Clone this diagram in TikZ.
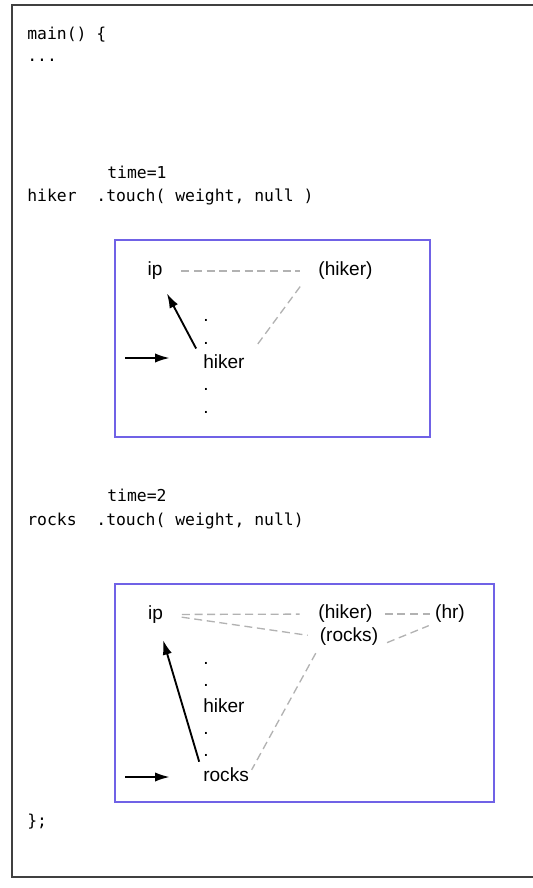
\documentclass[tikz,border=0pt]{standalone}
\usepackage{fontspec}
\setmainfont{Liberation Sans}
\setmonofont{DejaVu Sans Mono}
\usetikzlibrary{arrows.meta}
\definecolor{boxblue}{RGB}{112,98,230}
\definecolor{linkgray}{RGB}{178,178,178}
\tikzset{
  codeline/.style={anchor=base west, inner sep=0pt, font=\fontsize{12.3}{15}\selectfont\ttfamily},
  word/.style={inner sep=0pt, font=\fontsize{14.3}{17}\selectfont},
  memory/.style={draw=boxblue, line width=2pt},
  link/.style={draw=linkgray, line width=1pt, dash pattern=on 6pt off 3.5pt},
  ptr/.style={-{Latex[length=11pt,width=7pt]}, line width=1.4pt}
}
\begin{document}
\begin{tikzpicture}[x=0.75pt, y=-0.75pt]
\useasboundingbox (0,0) rectangle (532,888);

% Outer frame (right side runs off the page)
\draw[line width=1.5pt, draw=black!75] (540,5) -- (12,5) -- (12,877) -- (540,877);

% Code lines
\node[codeline] (mainline) at (27,40) {main() \{};
\node[codeline] (dotsline) at (27,62) {...};
\node[codeline] (timeA) at (107,178) {time=1};
\node[codeline] (callA) at (27,201) {hiker\ \ .touch(\ weight,\ null\ )};
\node[codeline] (timeB) at (107,501) {time=2};
\node[codeline] (callB) at (27,525) {rocks\ \ .touch(\ weight,\ null)};
\node[codeline] (endline) at (27,826) {\};};

% First memory box (time=1)
\draw[memory] (115,240) rectangle (430,437);
\node[word] (ipA) at (155,271) {ip};
\node[word] (ptrA) at (345.5,271) {(hiker)};
\node[word] (dA1) at (206,320) {.};
\node[word] (dA2) at (206,343) {.};
\node[word, anchor=west] (hikerA) at (203,361.5) {hiker};
\node[word] (dA3) at (206,389) {.};
\node[word] (dA4) at (206,412) {.};
\coordinate (inA) at (125,358);

\draw[link, shorten <=14pt, shorten >=14pt] (ipA) -- (ptrA);
\draw[link, shorten <=6pt, shorten >=13pt] ([xshift=-10pt]ptrA.south west) -- (hikerA.east);
\draw[ptr, shorten <=11pt, shorten >=19pt] (hikerA.west) -- (ipA.center);
\draw[ptr, shorten >=25pt] (inA) -- (inA -| hikerA.west);

% Second memory box (time=2)
\draw[memory] (115,584) rectangle (494,802);
\node[word] (ipB) at (155.5,614.5) {ip};
\node[word] (ptrhB) at (345.5,614) {(hiker)};
\node[word] (ptrrB) at (349,637) {(rocks)};
\node[word] (hrB) at (450,614) {(hr)};
\node[word] (dB1) at (206,663) {.};
\node[word] (dB2) at (206,685) {.};
\node[word, anchor=west] (hikerB) at (203,705.5) {hiker};
\node[word] (dB3) at (206,733) {.};
\node[word] (dB4) at (206,755) {.};
\node[word, anchor=west] (rocksB) at (203,774.5) {rocks};
\coordinate (inB) at (125,777);

\draw[link, shorten <=14pt, shorten >=14pt] (ipB) -- (ptrhB);
\draw[link, shorten <=14pt, shorten >=9pt] (ipB.east) -- (ptrrB.west);
\draw[link, shorten <=9pt, shorten >=4pt] (ptrhB) -- (hrB);
\draw[link, shorten <=7pt, shorten >=5pt] (ptrrB.south east) -- (hrB.south west);
\draw[link, shorten <=6pt, shorten >=4pt] (ptrrB.south west) -- (rocksB.east);
\draw[ptr, shorten <=10pt, shorten >=20pt] (rocksB.west) -- (ipB.center);
\draw[ptr, shorten >=25pt] (inB) -- (inB -| rocksB.west);
\end{tikzpicture}
\end{document}
